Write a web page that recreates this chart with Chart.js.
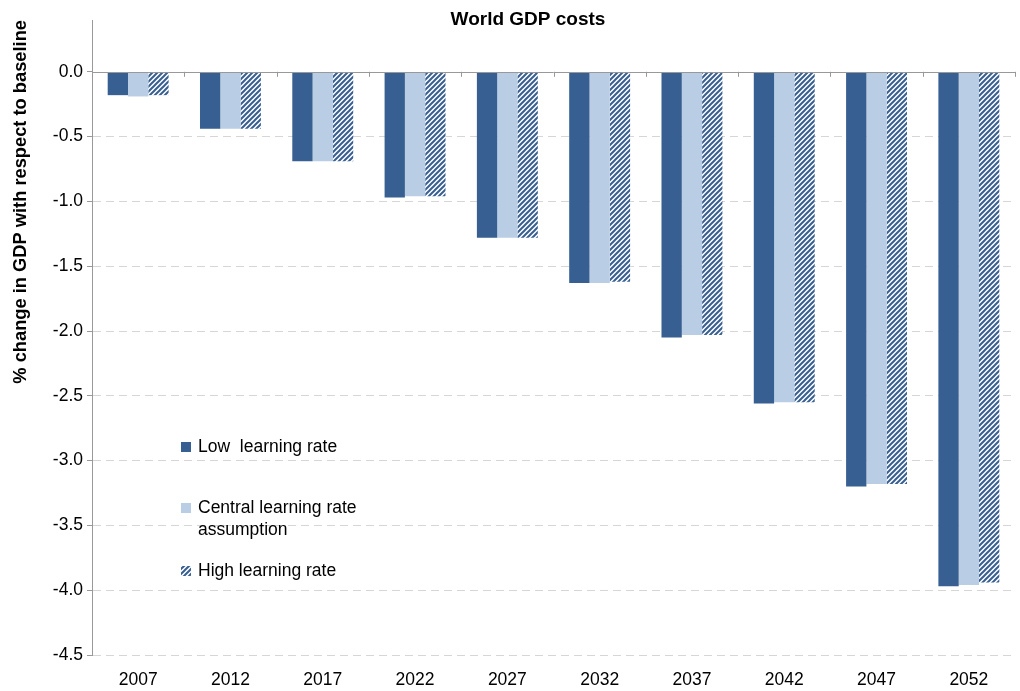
<!DOCTYPE html>
<html lang="en">
<head>
	<meta charset="UTF-8">
	<title>World GDP costs</title>
	<script src="https://cdn.jsdelivr.net/npm/chart.js"></script>
	<style>
		body { margin: 0; background: #fff; }
		#wrap { width: 1020px; height: 691px; }
	</style>
</head>
<body>
	<div id="wrap"><canvas id="myChart"></canvas></div>

	<script>
		const years = ['2007', '2012', '2017', '2022', '2027', '2032', '2037', '2042', '2047', '2052'];
		const lowRate = [-0.18, -0.44, -0.69, -0.97, -1.28, -1.63, -2.05, -2.56, -3.20, -3.97];
		const centralRate = [-0.19, -0.44, -0.69, -0.96, -1.28, -1.63, -2.03, -2.55, -3.18, -3.96];
		const highRate = [-0.18, -0.44, -0.69, -0.96, -1.28, -1.62, -2.03, -2.55, -3.18, -3.94];
		const yTicks = [0, -0.5, -1, -1.5, -2, -2.5, -3, -3.5, -4, -4.5];

		const darkBlue = '#375f91';
		const lightBlue = '#b9cde5';
		const font = 'Liberation Sans, Arial, sans-serif';

		// diagonal stripes for the high learning rate bars
		function makeHatch() {
			const c = document.createElement('canvas');
			c.width = 5; c.height = 5;
			const g = c.getContext('2d');
			g.fillStyle = '#fff';
			g.fillRect(0, 0, 5, 5);
			g.strokeStyle = darkBlue;
			g.lineWidth = 2;
			g.beginPath();
			g.moveTo(-1, 6); g.lineTo(6, -1);
			g.moveTo(-1, 1); g.lineTo(1, -1);
			g.moveTo(4, 6); g.lineTo(6, 4);
			g.stroke();
			return g.createPattern(c, 'repeat');
		}
		const hatch = makeHatch();

		const legendItems = [
			{ lines: ['Low  learning rate'], fill: darkBlue, y: 447 },
			{ lines: ['Central learning rate', 'assumption'], fill: lightBlue, y: 508 },
			{ lines: ['High learning rate'], fill: hatch, y: 571 }
		];

		const extras = {
			id: 'extras',
			afterDatasetsDraw(chart) {
				const ctx = chart.ctx;
				const area = chart.chartArea;
				const y0 = chart.scales.y.getPixelForValue(0);
				const step = (area.right - area.left) / years.length;
				ctx.save();
				// category axis at zero
				ctx.strokeStyle = '#999';
				ctx.lineWidth = 1;
				ctx.beginPath();
				ctx.moveTo(area.left, Math.round(y0) + 0.5);
				ctx.lineTo(area.right, Math.round(y0) + 0.5);
				for (let i = 1; i <= years.length; i++) {
					const x = Math.round(area.left + i * step) + 0.5;
					ctx.moveTo(x, y0);
					ctx.lineTo(x, y0 + 5);
				}
				ctx.stroke();

				// title
				ctx.fillStyle = '#000';
				ctx.font = 'bold 19px ' + font;
				ctx.textAlign = 'center';
				ctx.textBaseline = 'middle';
				ctx.fillText('World GDP costs', 528, 20);

				// legend
				ctx.font = '17.5px ' + font;
				ctx.textAlign = 'left';
				legendItems.forEach(item => {
					ctx.fillStyle = item.fill;
					ctx.fillRect(181, item.y - 5, 10, 10);
					ctx.fillStyle = '#000';
					item.lines.forEach((t, j) => ctx.fillText(t, 198, item.y + j * 22));
				});
				ctx.restore();
			}
		};

		new Chart(document.getElementById('myChart'), {
			type: 'bar',
			data: {
				labels: years,
				datasets: [
					{ label: 'Low learning rate', data: lowRate, backgroundColor: darkBlue },
					{ label: 'Central learning rate assumption', data: centralRate, backgroundColor: lightBlue },
					{ label: 'High learning rate', data: highRate, backgroundColor: hatch }
				]
			},
			options: {
				responsive: true,
				maintainAspectRatio: false,
				animation: false,
				categoryPercentage: 0.66,
				barPercentage: 1,
				layout: { padding: { top: 20, right: 5, bottom: 0, left: 0 } },
				plugins: {
					legend: { display: false },
					tooltip: { enabled: false }
				},
				scales: {
					x: {
						grid: { display: false, drawTicks: false },
						border: { display: false },
						afterFit: scale => { scale.height = 36; },
						ticks: { color: '#000', padding: 15, font: { family: font, size: 17.5 } }
					},
					y: {
						min: -4.5,
						max: 0.4,
						afterBuildTicks: scale => { scale.ticks = yTicks.map(v => ({ value: v })); },
						afterFit: scale => { scale.width = 92; },
						grid: {
							color: c => c.tick && c.tick.value === 0 ? 'rgba(0,0,0,0)' : '#d6d6d6',
							tickColor: '#999',
							tickLength: 5,
							lineWidth: 1
						},
						border: { display: true, color: '#999', dash: [8, 5] },
						ticks: {
							color: '#000',
							padding: 4,
							font: { family: font, size: 17.5 },
							callback: v => Number(v).toFixed(1)
						},
						title: {
							display: true,
							text: '% change in GDP with respect to baseline',
							align: 'end',
							color: '#000',
							padding: { top: 10, bottom: 0 },
							font: { family: font, size: 18.3, weight: 'bold' }
						}
					}
				}
			},
			plugins: [extras]
		});
	</script>
</body>
</html>
